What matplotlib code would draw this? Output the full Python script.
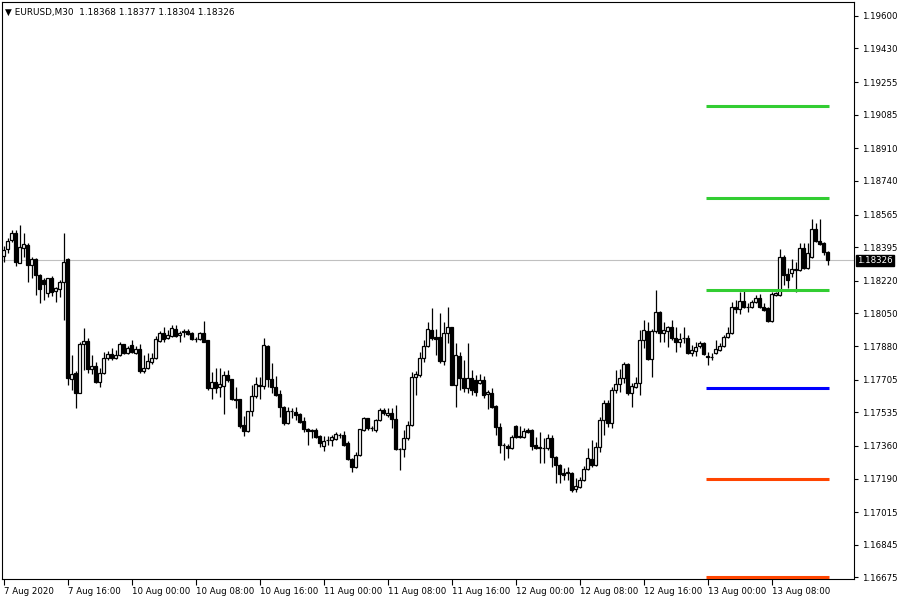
""" EURUSD M30 candles with pivot levels, MetaTrader look
"""
import matplotlib.pyplot as plt
import matplotlib.transforms as mtransforms
import numpy as np

symbol = "EURUSD,M30"

opens = [1.18349, 1.18385, 1.18432, 1.18468, 1.18312, 1.18390, 1.18406, 1.18302, 1.18333, 1.18250,
         1.18224, 1.18156, 1.18234, 1.18166, 1.18177, 1.18213, 1.18333, 1.17708, 1.17740, 1.17636,
         1.17890, 1.17906, 1.17760, 1.17776, 1.17693, 1.17740, 1.17818, 1.17838, 1.17818, 1.17833,
         1.17890, 1.17844, 1.17885, 1.17844, 1.17864, 1.17750, 1.17766, 1.17797, 1.17818, 1.17906,
         1.17948, 1.17922, 1.17932, 1.17968, 1.17937, 1.17953, 1.17958, 1.17948, 1.17916, 1.17916,
         1.17948, 1.17911, 1.17662, 1.17693, 1.17667, 1.17672, 1.17729, 1.17708, 1.17604, 1.17604,
         1.17469, 1.17438, 1.17542, 1.17620, 1.17677, 1.17672, 1.17880, 1.17708, 1.17667, 1.17630,
         1.17563, 1.17479, 1.17542, 1.17537, 1.17526, 1.17490, 1.17448, 1.17443, 1.17443, 1.17412,
         1.17360, 1.17391, 1.17391, 1.17396, 1.17417, 1.17417, 1.17375, 1.17292, 1.17250, 1.17313,
         1.17443, 1.17505, 1.17453, 1.17443, 1.17495, 1.17547, 1.17521, 1.17531, 1.17500, 1.17344,
         1.17344, 1.17401, 1.17469, 1.17719, 1.17729, 1.17818, 1.17880, 1.17963, 1.17927, 1.17927,
         1.17802, 1.17948, 1.17979, 1.17677, 1.17828, 1.17714, 1.17662, 1.17714, 1.17703, 1.17688,
         1.17703, 1.17630, 1.17636, 1.17568, 1.17459, 1.17365, 1.17360, 1.17349, 1.17464, 1.17412,
         1.17407, 1.17443, 1.17443, 1.17365, 1.17355, 1.17349, 1.17349, 1.17401, 1.17303, 1.17261,
         1.17219, 1.17219, 1.17219, 1.17136, 1.17146, 1.17182, 1.17240, 1.17292, 1.17261, 1.17355,
         1.17495, 1.17583, 1.17479, 1.17651, 1.17682, 1.17714, 1.17786, 1.17636, 1.17667, 1.17688,
         1.17911, 1.17958, 1.17812, 1.17958, 1.18057, 1.17948, 1.17958, 1.17979, 1.17922, 1.17901,
         1.17922, 1.17922, 1.17844, 1.17854, 1.17880, 1.17896, 1.17828, 1.17823, 1.17844, 1.17859,
         1.17880, 1.17927, 1.17948, 1.18083, 1.18072, 1.18114, 1.18083, 1.18083, 1.18109, 1.18130,
         1.18083, 1.18078, 1.18010, 1.18145, 1.18145, 1.18344, 1.18255, 1.18260, 1.18276, 1.18276,
         1.18390, 1.18286, 1.18344, 1.18489, 1.18427, 1.18416, 1.18368]

highs = [1.18401, 1.18442, 1.18484, 1.18484, 1.18510, 1.18468, 1.18416, 1.18344, 1.18338, 1.18255,
         1.18234, 1.18234, 1.18245, 1.18187, 1.18224, 1.18468, 1.18338, 1.17833, 1.17750, 1.17901,
         1.17974, 1.17922, 1.17833, 1.17797, 1.17766, 1.17849, 1.17854, 1.17870, 1.17859, 1.17901,
         1.17890, 1.17880, 1.17911, 1.17880, 1.17890, 1.17833, 1.17844, 1.17844, 1.17932, 1.17958,
         1.17979, 1.17963, 1.17989, 1.17989, 1.17958, 1.17968, 1.17968, 1.17953, 1.17927, 1.17953,
         1.18010, 1.17911, 1.17745, 1.17766, 1.17766, 1.17750, 1.17755, 1.17708, 1.17667, 1.17604,
         1.17516, 1.17542, 1.17677, 1.17719, 1.17719, 1.17922, 1.17885, 1.17792, 1.17724, 1.17651,
         1.17568, 1.17563, 1.17557, 1.17563, 1.17531, 1.17511, 1.17453, 1.17448, 1.17453, 1.17417,
         1.17412, 1.17412, 1.17417, 1.17433, 1.17427, 1.17438, 1.17386, 1.17297, 1.17329, 1.17448,
         1.17511, 1.17505, 1.17464, 1.17500, 1.17557, 1.17557, 1.17557, 1.17557, 1.17573, 1.17349,
         1.17443, 1.17490, 1.17745, 1.17750, 1.17849, 1.17911, 1.18005, 1.18078, 1.17968, 1.18052,
         1.18005, 1.18083, 1.17979, 1.17896, 1.17849, 1.17807, 1.17896, 1.17755, 1.17729, 1.17734,
         1.17724, 1.17651, 1.17662, 1.17573, 1.17479, 1.17375, 1.17370, 1.17417, 1.17469, 1.17464,
         1.17453, 1.17453, 1.17448, 1.17407, 1.17433, 1.17401, 1.17422, 1.17417, 1.17308, 1.17266,
         1.17245, 1.17250, 1.17224, 1.17193, 1.17198, 1.17256, 1.17349, 1.17391, 1.17381, 1.17511,
         1.17599, 1.17599, 1.17667, 1.17755, 1.17760, 1.17797, 1.17792, 1.17688, 1.17719, 1.17963,
         1.18015, 1.18005, 1.17968, 1.18171, 1.18062, 1.18005, 1.17984, 1.18015, 1.17979, 1.17948,
         1.17979, 1.17937, 1.17885, 1.17901, 1.17906, 1.17901, 1.17849, 1.17844, 1.17911, 1.17896,
         1.17937, 1.17979, 1.18109, 1.18119, 1.18161, 1.18166, 1.18104, 1.18119, 1.18145, 1.18151,
         1.18104, 1.18083, 1.18161, 1.18161, 1.18385, 1.18354, 1.18286, 1.18333, 1.18317, 1.18416,
         1.18416, 1.18416, 1.18541, 1.18520, 1.18541, 1.18421, 1.18377]

lows = [1.18317, 1.18364, 1.18421, 1.18297, 1.18312, 1.18344, 1.18213, 1.18234, 1.18145, 1.18104,
        1.18119, 1.18135, 1.18140, 1.18109, 1.18135, 1.18015, 1.17677, 1.17651, 1.17557, 1.17636,
        1.17755, 1.17740, 1.17734, 1.17688, 1.17667, 1.17734, 1.17807, 1.17807, 1.17812, 1.17828,
        1.17838, 1.17838, 1.17844, 1.17838, 1.17740, 1.17740, 1.17760, 1.17786, 1.17812, 1.17901,
        1.17901, 1.17916, 1.17927, 1.17927, 1.17901, 1.17927, 1.17937, 1.17911, 1.17901, 1.17911,
        1.17901, 1.17651, 1.17604, 1.17636, 1.17615, 1.17526, 1.17693, 1.17599, 1.17557, 1.17453,
        1.17412, 1.17433, 1.17516, 1.17609, 1.17604, 1.17656, 1.17667, 1.17636, 1.17620, 1.17511,
        1.17469, 1.17474, 1.17505, 1.17495, 1.17479, 1.17433, 1.17365, 1.17401, 1.17401, 1.17355,
        1.17334, 1.17365, 1.17360, 1.17391, 1.17401, 1.17360, 1.17287, 1.17224, 1.17245, 1.17308,
        1.17438, 1.17443, 1.17438, 1.17433, 1.17490, 1.17521, 1.17511, 1.17453, 1.17339, 1.17235,
        1.17303, 1.17391, 1.17464, 1.17625, 1.17719, 1.17797, 1.17875, 1.17911, 1.17833, 1.17792,
        1.17781, 1.17896, 1.17677, 1.17563, 1.17651, 1.17641, 1.17636, 1.17625, 1.17620, 1.17682,
        1.17609, 1.17552, 1.17557, 1.17417, 1.17323, 1.17287, 1.17297, 1.17344, 1.17401, 1.17401,
        1.17401, 1.17427, 1.17339, 1.17344, 1.17271, 1.17271, 1.17339, 1.17250, 1.17167, 1.17167,
        1.17182, 1.17182, 1.17120, 1.17120, 1.17141, 1.17177, 1.17235, 1.17250, 1.17256, 1.17329,
        1.17417, 1.17459, 1.17453, 1.17636, 1.17641, 1.17688, 1.17625, 1.17563, 1.17662, 1.17625,
        1.17870, 1.17807, 1.17719, 1.17948, 1.17901, 1.17901, 1.17875, 1.17911, 1.17849, 1.17875,
        1.17896, 1.17838, 1.17828, 1.17828, 1.17870, 1.17833, 1.17781, 1.17807, 1.17838, 1.17854,
        1.17875, 1.17922, 1.17943, 1.18052, 1.18047, 1.18078, 1.18057, 1.18078, 1.18104, 1.18078,
        1.18062, 1.18005, 1.18005, 1.18140, 1.18140, 1.18197, 1.18182, 1.18239, 1.18161, 1.18271,
        1.18281, 1.18281, 1.18338, 1.18421, 1.18406, 1.18354, 1.18304]

closes = [1.18380, 1.18427, 1.18468, 1.18317, 1.18396, 1.18411, 1.18302, 1.18333, 1.18250, 1.18177,
          1.18203, 1.18234, 1.18161, 1.18182, 1.18213, 1.18317, 1.17714, 1.17734, 1.17636, 1.17890,
          1.17906, 1.17760, 1.17776, 1.17693, 1.17740, 1.17818, 1.17838, 1.17818, 1.17833, 1.17890,
          1.17844, 1.17870, 1.17849, 1.17864, 1.17750, 1.17766, 1.17802, 1.17818, 1.17916, 1.17948,
          1.17916, 1.17937, 1.17974, 1.17932, 1.17948, 1.17958, 1.17943, 1.17916, 1.17916, 1.17948,
          1.17901, 1.17662, 1.17693, 1.17662, 1.17682, 1.17729, 1.17703, 1.17604, 1.17599, 1.17464,
          1.17438, 1.17542, 1.17620, 1.17682, 1.17672, 1.17885, 1.17708, 1.17667, 1.17625, 1.17563,
          1.17479, 1.17542, 1.17542, 1.17521, 1.17485, 1.17448, 1.17438, 1.17438, 1.17407, 1.17375,
          1.17386, 1.17391, 1.17407, 1.17422, 1.17417, 1.17365, 1.17292, 1.17250, 1.17313, 1.17448,
          1.17505, 1.17453, 1.17453, 1.17495, 1.17547, 1.17531, 1.17531, 1.17500, 1.17344, 1.17344,
          1.17401, 1.17469, 1.17719, 1.17734, 1.17818, 1.17880, 1.17968, 1.17922, 1.17916, 1.17802,
          1.17948, 1.17979, 1.17677, 1.17833, 1.17714, 1.17662, 1.17714, 1.17651, 1.17641, 1.17703,
          1.17625, 1.17641, 1.17563, 1.17459, 1.17365, 1.17365, 1.17349, 1.17407, 1.17407, 1.17407,
          1.17438, 1.17433, 1.17360, 1.17349, 1.17349, 1.17349, 1.17401, 1.17303, 1.17261, 1.17214,
          1.17209, 1.17224, 1.17130, 1.17151, 1.17182, 1.17240, 1.17297, 1.17261, 1.17355, 1.17495,
          1.17583, 1.17479, 1.17651, 1.17682, 1.17714, 1.17786, 1.17636, 1.17672, 1.17688, 1.17911,
          1.17963, 1.17812, 1.17958, 1.18057, 1.17948, 1.17963, 1.17979, 1.17922, 1.17901, 1.17916,
          1.17922, 1.17844, 1.17859, 1.17875, 1.17896, 1.17838, 1.17823, 1.17823, 1.17864, 1.17880,
          1.17927, 1.17948, 1.18083, 1.18072, 1.18114, 1.18083, 1.18083, 1.18109, 1.18130, 1.18083,
          1.18067, 1.18010, 1.18151, 1.18156, 1.18344, 1.18250, 1.18224, 1.18281, 1.18281, 1.18390,
          1.18286, 1.18364, 1.18489, 1.18427, 1.18411, 1.18369, 1.18326]

# pivot levels drawn from the 13 Aug 00:00 bar
pivot_levels = [1.19130, 1.18651, 1.18170, 1.17660, 1.17187, 1.16675]
pivot_colors = ["#32cd32", "#32cd32", "#32cd32", "#0000ff", "#ff4500", "#ff4500"]
pivot_start = 176

price_ticks = [1.19600, 1.19430, 1.19255, 1.19085, 1.18910, 1.18740, 1.18565, 1.18395, 1.18220,
               1.18050, 1.17880, 1.17705, 1.17535, 1.17360, 1.17190, 1.17015, 1.16845, 1.16675]
time_labels = ["7 Aug 2020", "7 Aug 16:00", "10 Aug 00:00", "10 Aug 08:00", "10 Aug 16:00",
               "11 Aug 00:00", "11 Aug 08:00", "11 Aug 16:00", "12 Aug 00:00", "12 Aug 08:00",
               "12 Aug 16:00", "13 Aug 00:00", "13 Aug 08:00"]
bars_per_label = 16

plt.rcParams["font.family"] = ["DejaVu Sans"]

o = np.array(opens)
h = np.array(highs)
l = np.array(lows)
c = np.array(closes)
x = np.arange(len(c))

fig = plt.figure(figsize=(9, 6), dpi=100)
ax = fig.add_axes([2 / 900, 21 / 600, 852 / 900, 577 / 600])

# wicks then bodies
ax.vlines(x, l, h, color="black", linewidth=0.9, zorder=2)
up = c >= o
ax.bar(x, np.abs(c - o), bottom=np.minimum(o, c), width=0.6,
       color=np.where(up, "white", "black"), edgecolor="black", linewidth=0.9, zorder=3)

# current price line
ax.axhline(c[-1], color="#c0c0c0", linewidth=0.8, zorder=1)

for lvl, col in zip(pivot_levels, pivot_colors):
	ax.hlines(lvl, pivot_start - 0.3, x[-1] + 0.3, color=col, linewidth=2.2, zorder=4)

ax.set_xlim(-0.375, -0.375 + 852 / 4)
ax.set_ylim(1.19672 - 577 / 19201, 1.19672)

ax.yaxis.tick_right()
ax.set_yticks(price_ticks)
ax.set_yticklabels([f"{v:.5f}" for v in price_ticks])
ax.tick_params(axis="y", direction="out", length=3, width=0.8, pad=3, labelsize=6.2)

ax.set_xticks(np.arange(len(time_labels)) * bars_per_label)
ax.set_xticklabels(time_labels)
ax.tick_params(axis="x", direction="out", length=4, width=0.8, pad=1.5, labelsize=6.2)
for lab in ax.get_xticklabels():
	lab.set_horizontalalignment("left")

for sp in ax.spines.values():
	sp.set_linewidth(0.8)
	sp.set_color("black")

# price tag on the axis
trans = mtransforms.blended_transform_factory(ax.transAxes, ax.transData)
ax.text(1.004, c[-1], f"{c[-1]:.5f}", transform=trans, ha="left", va="center",
        color="white", fontsize=6.2,
        bbox=dict(boxstyle="square,pad=0.15", fc="black", ec="black"), zorder=10)

header = "\u25bc " + symbol + "  " + " ".join(f"{v:.5f}" for v in (o[-1], h[-1], l[-1], c[-1]))
ax.text(0.004, 0.99, header, transform=ax.transAxes, ha="left", va="top", fontsize=6.4)

fig.savefig("out.png", dpi=100)
